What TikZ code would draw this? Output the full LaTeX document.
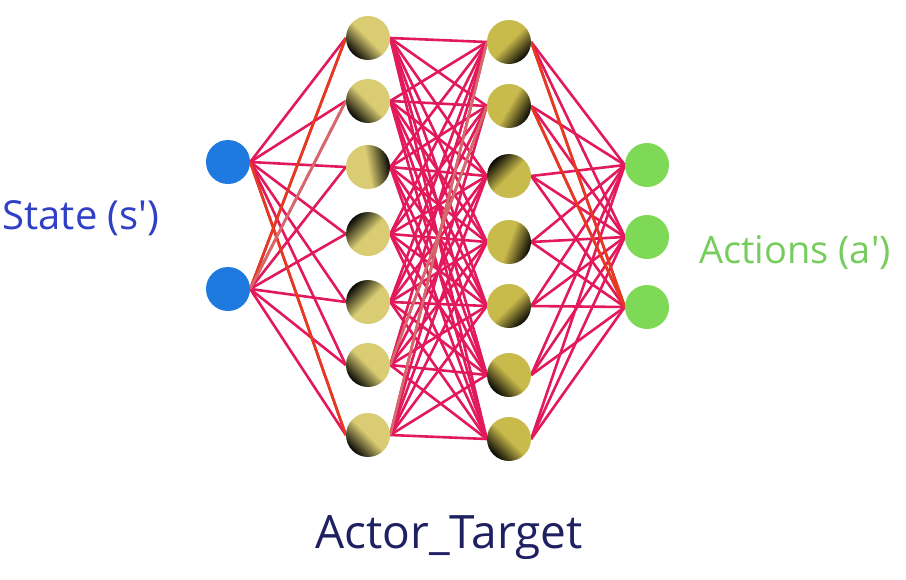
\documentclass[tikz,border=0pt]{standalone}
\usepackage{fontspec}
\setmainfont{Open Sans}
\definecolor{khakiA}{HTML}{D9CC72}
\definecolor{khakiB}{HTML}{C9BA4C}
\definecolor{inblue}{HTML}{1F7AE0}
\definecolor{outgreen}{HTML}{7ED957}
\definecolor{edgecol}{HTML}{E2195A}
\definecolor{edgeorange}{HTML}{E63A1E}
\definecolor{edgesalmon}{HTML}{D46A6A}
\definecolor{statecol}{HTML}{2F3FC6}
\definecolor{actcol}{HTML}{76CC5C}
\definecolor{titlecol}{HTML}{1E2062}
\pgfdeclarehorizontalshading{ballA}{100bp}{color(0bp)=(black); color(24bp)=(black); color(50bp)=(khakiA); color(100bp)=(khakiA)}
\pgfdeclarehorizontalshading{ballB}{100bp}{color(0bp)=(black); color(24bp)=(black); color(50bp)=(khakiB); color(100bp)=(khakiB)}
\pgfdeclarelayer{bg}
\pgfsetlayers{bg,main}
\tikzset{
  neuron/.style={circle, minimum size=44pt, inner sep=0pt, draw=none},
  inball/.style={neuron, fill=inblue},
  outball/.style={neuron, fill=outgreen},
  hidA/.style={neuron, shading=ballA, shading angle=#1},
  hidB/.style={neuron, shading=ballB, shading angle=#1},
  edge/.style={draw=edgecol, line width=2.6pt},
  edgeO/.style={draw=edgeorange, line width=2.6pt},
  edgeS/.style={draw=edgesalmon, line width=2.6pt},
}
\begin{document}
\begin{tikzpicture}[x=1pt,y=-1pt]
\useasboundingbox (0,0) rectangle (906,579);
% input
\node[inball] (i1) at (228,162) {};
\node[inball] (i2) at (228,289) {};
% hidden 1
\node[hidA=45]  (h1) at (368,38) {};
\node[hidA=45]  (h2) at (368,101) {};
\node[hidA=-170] (h3) at (368,167) {};
\node[hidA=-45] (h4) at (368,234) {};
\node[hidA=-45] (h5) at (368,302) {};
\node[hidA=45]  (h6) at (368,365) {};
\node[hidA=45]  (h7) at (368,435) {};
% hidden 2
\node[hidB=135] (k1) at (509,42) {};
\node[hidB=150] (k2) at (509,106) {};
\node[hidB=-45] (k3) at (509,176) {};
\node[hidB=160] (k4) at (509,242) {};
\node[hidB=135] (k5) at (509,306) {};
\node[hidB=45]  (k6) at (509,375) {};
\node[hidB=45]  (k7) at (509,439) {};
% output
\node[outball] (o1) at (647,165) {};
\node[outball] (o2) at (647,237) {};
\node[outball] (o3) at (647,307) {};
\begin{pgfonlayer}{bg}
\foreach \i in {1,2} \foreach \j in {1,...,7} \draw[edge] (i\i.east) -- (h\j.west);
\foreach \i in {1,...,7} \foreach \j in {1,...,7} \draw[edge] (h\i.east) -- (k\j.west);
\foreach \i in {1,...,7} \foreach \j in {1,2,3} \draw[edge] (k\i.east) -- (o\j.west);
\draw[edgeO] (i2.east) -- (h1.west);
\draw[edgeO] (i1.east) -- (h7.west);
\draw[edgeS] (i2.east) -- (h2.west);
\draw[edgeS] (h7.east) -- (k1.west);
\draw[edgeS] (h6.east) -- (k2.west);
\draw[edgeO] (k1.east) -- (o3.west);
\draw[edgeO] (k2.east) -- (o3.west);
\end{pgfonlayer}
% labels
\node[text=statecol, font=\fontsize{40}{45}\selectfont, inner sep=0pt] (st) at (81,218) {State (s\textquotesingle)};
\node[text=actcol, font=\fontsize{38}{43}\selectfont, inner sep=0pt] (ac) at (795,253) {Actions (a\textquotesingle)};
\node[text=titlecol, font=\fontsize{46}{51}\selectfont, inner sep=0pt] (ti) at (449,538) {Actor\_Target};
\end{tikzpicture}
\end{document}
